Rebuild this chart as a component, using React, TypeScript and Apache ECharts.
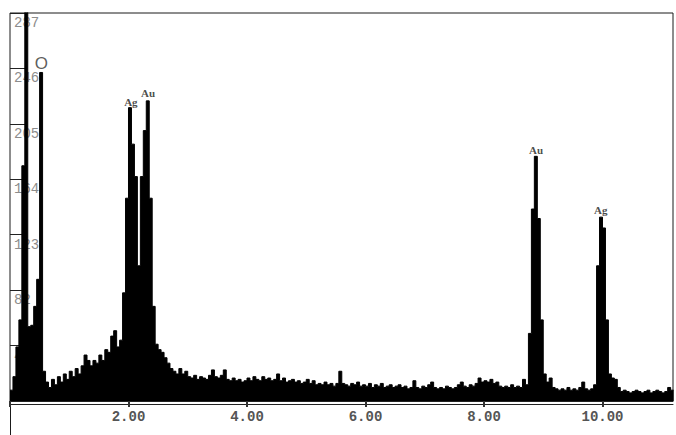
import React, { useEffect, useRef } from "react";
import * as echarts from "echarts";

// Energy bin width (keV) of the spectrum channels below
const BIN = 0.05;

// Counts per 0.05 keV channel, starting at 0 keV
const counts = [
  8, 18, 40, 60, 174, 320, 55, 56, 70, 90, 243,
  22, 14, 10, 16, 12, 18, 14, 20, 16, 22, 18, 24, 20, 26, 34, 30, 26, 30, 28, 34, 30, 38, 36, 48, 52, 40,
  45, 80, 150, 217, 190, 166, 100, 166, 200, 222, 150, 70, 42, 38, 36,
  32, 28, 24, 22, 20, 24, 20, 22,
  18, 17, 19, 16, 18, 17, 16, 19, 23, 18,
  17, 19, 23, 16, 15, 17, 15, 16, 14, 15,
  17, 15, 18, 16, 15, 18, 16, 17, 15, 16,
  20, 15, 17, 14, 15, 16, 14, 15, 13, 14,
  16, 13, 15, 12, 13, 12, 14, 12, 13, 11,
  13, 22, 13, 12, 11, 13, 12, 14, 11, 12,
  11, 13, 10, 12, 11, 13, 10, 11, 12, 10,
  11, 12, 10, 11, 9, 10, 15, 10, 9, 11,
  10, 12, 14, 10, 9, 10, 9, 11, 10, 9,
  10, 12, 14, 11, 10, 12, 11, 13, 17, 14,
  15, 14, 16, 13, 14, 11, 10, 11, 10, 12,
  10, 11, 10, 16, 12, 50, 142, 181, 135, 60,
  20, 14, 17, 10, 9, 8, 9, 8, 10, 8,
  9, 8, 10, 14, 9, 8, 9, 12, 100, 136,
  128, 60, 20, 17, 16, 10, 7, 8, 7, 6,
  7, 8, 7, 6, 7, 8, 6, 7, 8, 7,
  6, 7, 10, 8,
];

// Peak labels
const peakNames = ["O", "Ag", "Au", "Au", "Ag"];
const peakEnergies = [0.53, 2.04, 2.33, 8.88, 9.97];
const peakCounts = [250, 221, 228, 186, 141];

// Axis ranges
const X_MAX = 11.19;
const Y_MAX = 287;
const Y_STEP = 41;
const X_STEP = 2;

export default function App() {
  const ref = useRef<HTMLDivElement>(null);

  useEffect(() => {
    if (!ref.current) return;
    const chart = echarts.init(ref.current, undefined, { renderer: "svg" });

    const spectrum: number[][] = counts.map((c, i) => [i * BIN, c]);
    spectrum.push([counts.length * BIN, counts[counts.length - 1]]);

    const labelData = peakNames.map((n, i) => ({
      name: n,
      value: [peakEnergies[i], peakCounts[i]],
      label:
        n === "O"
          ? { fontFamily: "Liberation Sans", fontSize: 17, color: "#333", fontWeight: "normal" }
          : { fontFamily: "Liberation Serif", fontSize: 11, color: "#1a1a1a", fontWeight: "bold" },
    }));

    chart.setOption({
      animation: false,
      backgroundColor: "#ffffff",
      grid: {
        left: 10,
        right: 3,
        top: 13,
        bottom: 34,
        show: true,
        borderColor: "#1a1a1a",
        borderWidth: 1,
        backgroundColor: "transparent",
      },
      xAxis: [
        {
          type: "value",
          min: 0,
          max: X_MAX,
          interval: X_STEP,
          axisLine: { show: true, onZero: false, lineStyle: { color: "#222", width: 1 } },
          axisTick: { show: true, length: 6, lineStyle: { color: "#333", width: 2 } },
          axisLabel: {
            formatter: (v: number) => (v === 0 ? "" : v.toFixed(2)),
            fontFamily: "Liberation Mono",
            fontSize: 14,
            fontWeight: "bold",
            color: "#555",
            margin: 9,
            showMaxLabel: false,
          },
          splitLine: { show: false },
        },
        {
          type: "value",
          min: 0,
          max: X_MAX,
          position: "bottom",
          offset: 3,
          axisLine: { show: true, onZero: false, lineStyle: { color: "#222", width: 1 } },
          axisTick: { show: false },
          axisLabel: { show: false },
          splitLine: { show: false },
        },
      ],
      yAxis: {
        type: "value",
        min: 0,
        max: Y_MAX,
        interval: Y_STEP,
        axisLine: { show: false },
        axisTick: { show: true, inside: true, length: 15, lineStyle: { color: "#222" } },
        axisLabel: {
          inside: true,
          margin: 4,
          verticalAlign: "top",
          padding: [3, 0, 0, 0],
          formatter: (v: number) => (v === 0 ? "" : String(v)),
          fontFamily: "Liberation Mono",
          fontSize: 14,
          color: "#8c8c8c",
        },
        splitLine: { show: false },
      },
      graphic: [
        {
          type: "line",
          shape: { x1: 10.5, y1: 401, x2: 10.5, y2: 435 },
          style: { stroke: "#1a1a1a", lineWidth: 1 },
          silent: true,
        },
      ],
      series: [
        {
          type: "line",
          step: "end",
          data: spectrum,
          showSymbol: false,
          symbol: "none",
          clip: true,
          lineStyle: { color: "#000", width: 1 },
          areaStyle: { color: "#000", opacity: 1 },
          silent: true,
          z: 2,
        },
        {
          type: "scatter",
          data: labelData,
          symbolSize: 1,
          itemStyle: { color: "rgba(0,0,0,0)" },
          label: { show: true, position: "inside", formatter: "{b}" },
          silent: true,
          z: 5,
        },
      ],
    });

    return () => chart.dispose();
  }, []);

  return (
    <div
      ref={ref}
      style={{ position: "absolute", left: 0, top: 0, width: 676, height: 435, background: "#fff" }}
    />
  );
}
